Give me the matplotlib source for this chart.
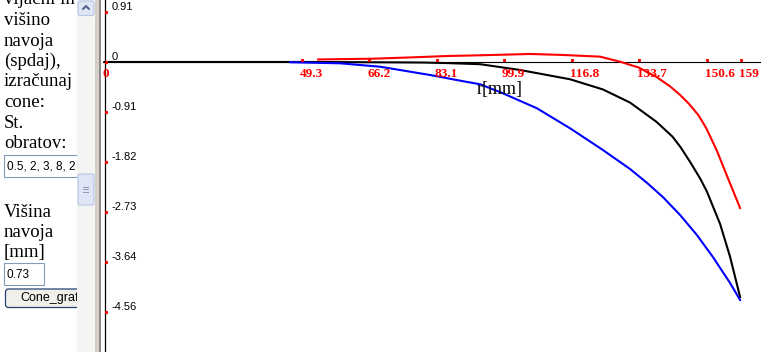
import matplotlib
matplotlib.use('Agg')
import matplotlib.pyplot as plt
import matplotlib.transforms as mtransforms
from matplotlib.patches import Rectangle, FancyBboxPatch

# --- chart data ---
x_ticks = [0, 49.3, 66.2, 83.1, 99.9, 116.8, 133.7, 150.6, 159]
x_tick_labels = ['0', '49.3', '66.2', '83.1', '99.9', '116.8', '133.7', '150.6', '159']
y_ticks = [0.91, 0, -0.91, -1.82, -2.73, -3.64, -4.56]
y_tick_labels = ['0.91', '0', '-0.91', '-1.82', '-2.73', '-3.64', '-4.56']

r_red = [53.4, 67.1, 77.6, 85.6, 93.9, 106.4, 114.6, 123.9, 128.9, 133.5, 137.9, 141.5, 143.9, 146.1, 148.5, 150.4, 153, 155.6, 158.9]
red = [0.046, 0.06, 0.086, 0.109, 0.122, 0.146, 0.128, 0.097, 0.005, -0.1, -0.268, -0.45, -0.6, -0.76, -0.97, -1.2, -1.6, -2.07, -2.66]

r_black = [0, 25, 53.4, 79.6, 85.6, 93.9, 103.9, 116.4, 124.6, 131.4, 138, 142, 144, 146.4, 148.9, 150.6, 153.9, 156.4, 158.9]
black = [0, 0, 0, -0.01, -0.02, -0.04, -0.146, -0.315, -0.5, -0.74, -1.09, -1.36, -1.55, -1.82, -2.12, -2.36, -2.95, -3.55, -4.28]

r_blue = [46.4, 58.9, 68.9, 81.4, 88.9, 93.9, 99.6, 108.1, 116.4, 124.6, 131.4, 135.6, 139.6, 143.9, 148.1, 152.1, 156.4, 158.9]
blue = [-0.005, -0.024, -0.086, -0.237, -0.34, -0.406, -0.57, -0.843, -1.208, -1.603, -1.95, -2.2, -2.46, -2.787, -3.151, -3.552, -4.026, -4.335]

# --- left form panel text ---
form_lines = ['vijačni in', 'višino', 'navoja', '(spdaj),', 'izračunaj', 'cone:', 'St.', 'obratov:']
form_lines2 = ['Višina', 'navoja', '[mm]']
turns_value = '0.5, 2, 3, 8, 2'
height_value = '0.73'
button_text = 'Cone_graf'


def main():
    W, H = 761, 352
    fig = plt.figure(figsize=(W / 100, H / 100), dpi=100)

    # ================= chart =================
    ax = fig.add_axes([103 / W, 0, (W - 103) / W, 1])
    ax.set_xlim(-0.375, 164.125)
    ax.set_ylim(-5.282, 1.129)
    ax.axis('off')

    ax.axhline(0, color='black', lw=0.8, zorder=2)
    ax.axvline(0, color='black', lw=0.9, zorder=2)

    ax.plot(r_black, black, color='black', lw=1.5, zorder=3)
    ax.plot(r_blue, blue, color='#0000ff', lw=1.5, zorder=3)
    ax.plot(r_red, red, color='#ff0000', lw=1.5, zorder=4)

    # small red tick dots
    up = mtransforms.offset_copy(ax.transData, fig=fig, x=0, y=1.5, units='dots')
    ax.plot(x_ticks[1:], [0] * (len(x_ticks) - 1), 's', color='red', ms=1.2,
            transform=up, zorder=5)
    right = mtransforms.offset_copy(ax.transData, fig=fig, x=1.5, y=0, units='dots')
    ax.plot([0] * len(y_ticks), y_ticks, 's', color='red', ms=1.2,
            transform=right, zorder=5)

    # x tick labels (red, bold serif)
    for v, lab in zip(x_ticks, x_tick_labels):
        ax.annotate(lab, (v, 0), xytext=(-2, -6), textcoords='offset pixels',
                    ha='left', va='top', color='red', fontsize=9.5,
                    fontweight='bold', family='Liberation Serif', zorder=6)

    # y tick labels
    for v, lab in zip(y_ticks, y_tick_labels):
        ax.annotate(lab, (0, v), xytext=(7, 0), textcoords='offset pixels',
                    ha='left', va='bottom', color='black', fontsize=8,
                    family='Liberation Sans', zorder=6)

    ax.text(98.75, -0.51, 'r[mm]', ha='center', va='center', fontsize=13,
            family='Liberation Serif', color='black')

    # ================= left form panel =================
    p = fig.add_axes([0, 0, 103 / W, 1])
    p.set_xlim(0, 103)
    p.set_ylim(H, 0)
    p.axis('off')

    for i, s in enumerate(form_lines):
        p.text(4, 4.5 + 20.5 * i, s, va='baseline', ha='left', fontsize=13.5,
               family='Liberation Serif', zorder=2)
    for i, s in enumerate(form_lines2):
        p.text(4, 217 + 20 * i, s, va='baseline', ha='left', fontsize=13.5,
               family='Liberation Serif', zorder=2)

    p.add_patch(Rectangle((4, 155), 85, 22, facecolor='white',
                          edgecolor='#7f9db9', lw=0.8, zorder=1))
    p.text(7, 166.5, turns_value, va='center', ha='left', fontsize=8.5,
           family='Liberation Sans', zorder=2)

    p.add_patch(Rectangle((4, 263), 40, 22, facecolor='white',
                          edgecolor='#7f9db9', lw=0.8, zorder=1))
    p.text(7, 274.5, height_value, va='center', ha='left', fontsize=8.5,
           family='Liberation Sans', zorder=2)

    p.add_patch(FancyBboxPatch((5.5, 289), 85, 18.5,
                               boxstyle='round,pad=0,rounding_size=3',
                               facecolor='#f0f0ea', edgecolor='#24426e',
                               lw=0.9, zorder=1))
    p.text(20, 298.5, button_text, va='center', ha='left', fontsize=9,
           family='Liberation Sans', zorder=2)

    # scrollbar
    p.add_patch(Rectangle((77, 0), 18, H, facecolor='#f4f4f2',
                          edgecolor='none', zorder=5))
    p.add_patch(FancyBboxPatch((78, 1), 16, 14.5,
                               boxstyle='round,pad=0,rounding_size=2',
                               facecolor='#dfe5f4', edgecolor='#b9c6e4',
                               lw=0.8, zorder=6))
    p.plot([82.5, 86, 89.5], [9.5, 6, 9.5], color='#4d6185', lw=1.4,
           zorder=7, solid_capstyle='butt')
    p.add_patch(FancyBboxPatch((78, 174), 16, 31,
                               boxstyle='round,pad=0,rounding_size=2',
                               facecolor='#dfe5f4', edgecolor='#b9c6e4',
                               lw=0.8, zorder=6))
    for gy in (186.5, 189, 191.5):
        p.plot([83.5, 88.5], [gy, gy], color='#8a98b8', lw=0.7, zorder=7)

    # frame border
    p.add_patch(Rectangle((95, 0), 4.5, H, facecolor='#d4d0c8',
                          edgecolor='none', zorder=5))
    p.add_patch(Rectangle((99.5, 0), 1.5, H, facecolor='#8c8c8c',
                          edgecolor='none', zorder=5))

    fig.savefig('out.png', dpi=100)


if __name__ == '__main__':
    main()
